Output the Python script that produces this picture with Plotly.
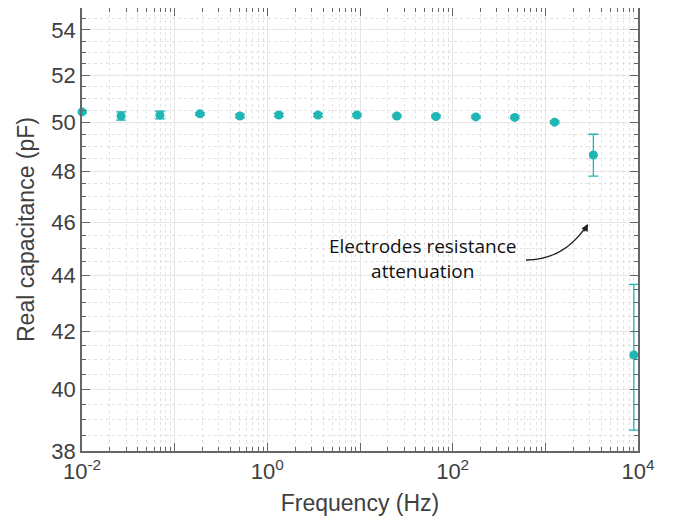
import plotly.graph_objects as go

# ---- data ----
freq_hz = [0.01, 0.0264, 0.0694, 0.1875, 0.506, 1.33, 3.52, 9.27, 25.0, 66.0, 178.0, 468.0, 1260.0, 3300.0, 9020.0]
cap_pf = [50.43, 50.26, 50.30, 50.35, 50.26, 50.30, 50.30, 50.30, 50.26, 50.24, 50.22, 50.20, 50.00, 48.65, 41.17]
cap_err = [0.05, 0.17, 0.16, 0.05, 0.07, 0.07, 0.07, 0.05, 0.05, 0.05, 0.05, 0.05, 0.05, 0.85, 2.5]

x_tickvals = [0.01, 0.1, 1, 10, 100, 1000, 10000]
x_ticktext = ["10<sup>-2</sup>", "", "10<sup>0</sup>", "", "10<sup>2</sup>", "", "10<sup>4</sup>"]
y_tickvals = [38, 40, 42, 44, 46, 48, 50, 52, 54]
y_ticktext = ["38", "40", "42", "44", "46", "48", "50", "52", "54"]

annot_text = "Electrodes resistance<br>attenuation"

teal = "#1fb6b6"
axis_col = "#666666"
font_col = "#404040"
fam = "Liberation Sans, Arial, sans-serif"

x_minor = [m * 10 ** e for e in range(-2, 4) for m in range(2, 10)]
y_minor = [v / 2 for v in range(77, 110) if v % 4 != 0]

fig = go.Figure()
fig.add_trace(go.Scatter(
    x=freq_hz, y=cap_pf, mode="markers",
    marker=dict(color=teal, size=9),
    error_y=dict(type="data", array=cap_err, visible=True, color=teal, thickness=1.3, width=5),
    cliponaxis=False, showlegend=False,
))

axis_common = dict(
    showline=True, linecolor=axis_col, linewidth=1.5, mirror="ticks",
    ticks="inside", ticklen=8, tickwidth=1.2, tickcolor=axis_col,
    showgrid=True, gridcolor="#e6e6e6", gridwidth=1, zeroline=False, automargin=False,
    tickfont=dict(family=fam, size=22, color=font_col),
)

fig.update_xaxes(
    type="log", range=[-2, 4], tickmode="array", tickvals=x_tickvals, ticktext=x_ticktext,
    title=dict(text="Frequency (Hz)", font=dict(family=fam, size=23, color=font_col), standoff=12),
    minor=dict(tickmode="array", tickvals=x_minor, ticks="inside", ticklen=4, tickcolor=axis_col,
               showgrid=True, gridcolor="#e2e2e2", griddash="dot", gridwidth=1),
    **axis_common,
)
fig.update_yaxes(
    type="log", range=[1.57978, 1.74036], tickmode="array", tickvals=y_tickvals, ticktext=y_ticktext,
    title=dict(text="Real capacitance (pF)", font=dict(family=fam, size=23, color=font_col), standoff=10),
    minor=dict(tickmode="array", tickvals=y_minor, ticks="inside", ticklen=4, tickcolor=axis_col,
               showgrid=True, gridcolor="#e2e2e2", griddash="dot", gridwidth=1),
    **axis_common,
)

# curved arrow (paper coordinates)
fig.add_shape(type="path", xref="paper", yref="paper",
              path="M 0.7986 0.4312 Q 0.8669 0.4312 0.9083 0.5101",
              line=dict(color="#222222", width=1.3))
fig.add_annotation(x=0.9101, y=0.5124, xref="paper", yref="paper", text="",
                   showarrow=True, ax=-5, ay=9, arrowhead=2, arrowsize=1.1, arrowwidth=1.3,
                   arrowcolor="#222222", standoff=0)
fig.add_annotation(x=0.613, y=0.434, xref="paper", yref="paper", text=annot_text,
                   showarrow=False, align="center", yanchor="middle",
                   font=dict(family="Open Sans, sans-serif", size=19, color="#111111"))

# page body has an 8px default margin, so the figure is sized to fit the 673x524 window
fig.update_layout(
    width=665, height=516,
    margin=dict(l=74, r=35, t=0, b=73),
    paper_bgcolor="white", plot_bgcolor="white",
)

fig.write_html("out.html")
